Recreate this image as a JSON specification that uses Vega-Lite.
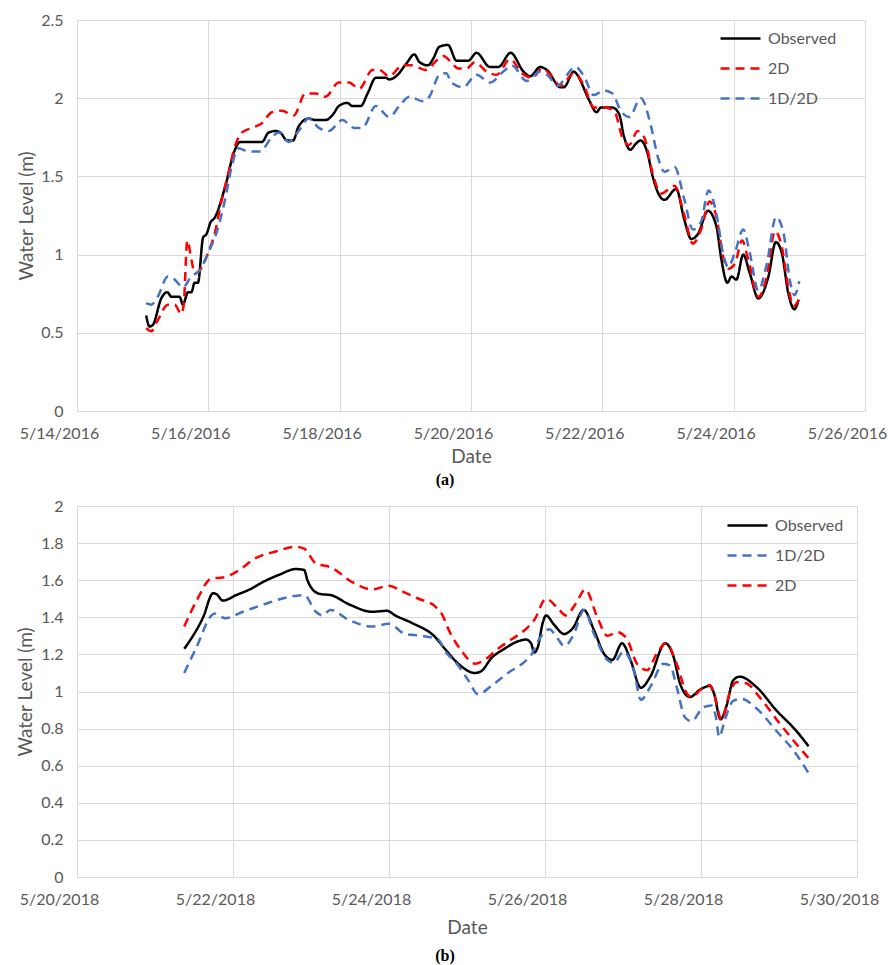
{
"$schema": "https://vega.github.io/schema/vega-lite/v6.json",
"background": "white",
"padding": {"left": 16, "top": 11, "right": 0, "bottom": 0},
"columns": 1,
"spacing": 8,
"config": {
  "font": "Lato",
  "view": {"stroke": "#D9D9D9", "strokeWidth": 1},
  "axis": {"labelFont": "Lato", "labelFontSize": 16, "labelColor": "#595959", "titleFont": "Lato", "titleFontSize": 19, "titleColor": "#595959", "titleFontWeight": "normal", "gridColor": "#D9D9D9", "gridWidth": 1, "domain": false, "ticks": false, "labelPadding": 14},
  "legend": {"orient": "none", "title": null, "symbolType": "stroke", "symbolSize": 1600, "symbolStrokeWidth": 2.5, "labelFont": "Lato", "labelFontSize": 16, "labelColor": "#595959", "labelOffset": 6, "rowPadding": 0}
},
"datasets": {
"a": [
{"date":"2016-05-15T01:18","level":0.61,"series":"Observed"},
{"date":"2016-05-15T02:30","level":0.54,"series":"Observed"},
{"date":"2016-05-15T03:42","level":0.55,"series":"Observed"},
{"date":"2016-05-15T06:48","level":0.72,"series":"Observed"},
{"date":"2016-05-15T09:00","level":0.76,"series":"Observed"},
{"date":"2016-05-15T10:30","level":0.73,"series":"Observed"},
{"date":"2016-05-15T13:30","level":0.73,"series":"Observed"},
{"date":"2016-05-15T14:42","level":0.68,"series":"Observed"},
{"date":"2016-05-15T16:36","level":0.76,"series":"Observed"},
{"date":"2016-05-15T17:48","level":0.76,"series":"Observed"},
{"date":"2016-05-15T19:00","level":0.82,"series":"Observed"},
{"date":"2016-05-15T20:12","level":0.82,"series":"Observed"},
{"date":"2016-05-15T22:06","level":1.11,"series":"Observed"},
{"date":"2016-05-15T23:18","level":1.13,"series":"Observed"},
{"date":"2016-05-16T00:54","level":1.21,"series":"Observed"},
{"date":"2016-05-16T02:06","level":1.23,"series":"Observed"},
{"date":"2016-05-16T06:06","level":1.43,"series":"Observed"},
{"date":"2016-05-16T09:30","level":1.66,"series":"Observed"},
{"date":"2016-05-16T11:36","level":1.72,"series":"Observed"},
{"date":"2016-05-16T19:36","level":1.72,"series":"Observed"},
{"date":"2016-05-16T22:00","level":1.78,"series":"Observed"},
{"date":"2016-05-17T00:30","level":1.79,"series":"Observed"},
{"date":"2016-05-17T02:18","level":1.78,"series":"Observed"},
{"date":"2016-05-17T04:48","level":1.73,"series":"Observed"},
{"date":"2016-05-17T07:00","level":1.73,"series":"Observed"},
{"date":"2016-05-17T09:00","level":1.82,"series":"Observed"},
{"date":"2016-05-17T12:42","level":1.87,"series":"Observed"},
{"date":"2016-05-17T15:12","level":1.86,"series":"Observed"},
{"date":"2016-05-17T18:48","level":1.86,"series":"Observed"},
{"date":"2016-05-17T21:18","level":1.89,"series":"Observed"},
{"date":"2016-05-17T23:42","level":1.95,"series":"Observed"},
{"date":"2016-05-18T02:48","level":1.97,"series":"Observed"},
{"date":"2016-05-18T04:42","level":1.95,"series":"Observed"},
{"date":"2016-05-18T07:42","level":1.95,"series":"Observed"},
{"date":"2016-05-18T10:12","level":2.03,"series":"Observed"},
{"date":"2016-05-18T13:12","level":2.13,"series":"Observed"},
{"date":"2016-05-18T16:54","level":2.13,"series":"Observed"},
{"date":"2016-05-18T18:06","level":2.12,"series":"Observed"},
{"date":"2016-05-18T20:36","level":2.14,"series":"Observed"},
{"date":"2016-05-19T00:18","level":2.22,"series":"Observed"},
{"date":"2016-05-19T03:18","level":2.28,"series":"Observed"},
{"date":"2016-05-19T05:12","level":2.23,"series":"Observed"},
{"date":"2016-05-19T08:18","level":2.21,"series":"Observed"},
{"date":"2016-05-19T10:06","level":2.25,"series":"Observed"},
{"date":"2016-05-19T12:30","level":2.33,"series":"Observed"},
{"date":"2016-05-19T15:36","level":2.34,"series":"Observed"},
{"date":"2016-05-19T18:42","level":2.24,"series":"Observed"},
{"date":"2016-05-19T23:00","level":2.24,"series":"Observed"},
{"date":"2016-05-20T02:00","level":2.29,"series":"Observed"},
{"date":"2016-05-20T06:54","level":2.20,"series":"Observed"},
{"date":"2016-05-20T10:00","level":2.20,"series":"Observed"},
{"date":"2016-05-20T14:30","level":2.29,"series":"Observed"},
{"date":"2016-05-20T19:12","level":2.17,"series":"Observed"},
{"date":"2016-05-20T21:36","level":2.14,"series":"Observed"},
{"date":"2016-05-21T01:18","level":2.20,"series":"Observed"},
{"date":"2016-05-21T03:48","level":2.18,"series":"Observed"},
{"date":"2016-05-21T08:42","level":2.07,"series":"Observed"},
{"date":"2016-05-21T09:54","level":2.07,"series":"Observed"},
{"date":"2016-05-21T13:36","level":2.17,"series":"Observed"},
{"date":"2016-05-21T14:48","level":2.15,"series":"Observed"},
{"date":"2016-05-21T19:06","level":1.99,"series":"Observed"},
{"date":"2016-05-21T21:54","level":1.91,"series":"Observed"},
{"date":"2016-05-21T23:24","level":1.94,"series":"Observed"},
{"date":"2016-05-22T03:42","level":1.94,"series":"Observed"},
{"date":"2016-05-22T06:06","level":1.90,"series":"Observed"},
{"date":"2016-05-22T08:00","level":1.75,"series":"Observed"},
{"date":"2016-05-22T10:12","level":1.67,"series":"Observed"},
{"date":"2016-05-22T12:18","level":1.71,"series":"Observed"},
{"date":"2016-05-22T13:54","level":1.73,"series":"Observed"},
{"date":"2016-05-22T16:30","level":1.65,"series":"Observed"},
{"date":"2016-05-22T18:24","level":1.50,"series":"Observed"},
{"date":"2016-05-22T20:48","level":1.38,"series":"Observed"},
{"date":"2016-05-22T22:42","level":1.35,"series":"Observed"},
{"date":"2016-05-23T03:00","level":1.42,"series":"Observed"},
{"date":"2016-05-23T06:00","level":1.22,"series":"Observed"},
{"date":"2016-05-23T08:30","level":1.10,"series":"Observed"},
{"date":"2016-05-23T10:54","level":1.13,"series":"Observed"},
{"date":"2016-05-23T14:36","level":1.28,"series":"Observed"},
{"date":"2016-05-23T17:42","level":1.18,"series":"Observed"},
{"date":"2016-05-23T19:30","level":0.97,"series":"Observed"},
{"date":"2016-05-23T21:42","level":0.82,"series":"Observed"},
{"date":"2016-05-23T23:12","level":0.86,"series":"Observed"},
{"date":"2016-05-24T01:00","level":0.84,"series":"Observed"},
{"date":"2016-05-24T03:30","level":1.00,"series":"Observed"},
{"date":"2016-05-24T05:54","level":0.88,"series":"Observed"},
{"date":"2016-05-24T09:00","level":0.72,"series":"Observed"},
{"date":"2016-05-24T12:42","level":0.86,"series":"Observed"},
{"date":"2016-05-24T15:24","level":1.08,"series":"Observed"},
{"date":"2016-05-24T17:36","level":1.01,"series":"Observed"},
{"date":"2016-05-24T20:00","level":0.75,"series":"Observed"},
{"date":"2016-05-24T22:12","level":0.65,"series":"Observed"},
{"date":"2016-05-24T23:42","level":0.71,"series":"Observed"},
{"date":"2016-05-15T01:18","level":0.53,"series":"2D"},
{"date":"2016-05-15T03:06","level":0.51,"series":"2D"},
{"date":"2016-05-15T05:30","level":0.58,"series":"2D"},
{"date":"2016-05-15T09:12","level":0.68,"series":"2D"},
{"date":"2016-05-15T11:42","level":0.68,"series":"2D"},
{"date":"2016-05-15T14:06","level":0.62,"series":"2D"},
{"date":"2016-05-15T15:00","level":0.68,"series":"2D"},
{"date":"2016-05-15T16:18","level":1.09,"series":"2D"},
{"date":"2016-05-15T17:48","level":0.97,"series":"2D"},
{"date":"2016-05-15T19:00","level":0.88,"series":"2D"},
{"date":"2016-05-15T20:54","level":0.90,"series":"2D"},
{"date":"2016-05-15T23:54","level":1.01,"series":"2D"},
{"date":"2016-05-16T02:24","level":1.14,"series":"2D"},
{"date":"2016-05-16T04:54","level":1.35,"series":"2D"},
{"date":"2016-05-16T07:18","level":1.52,"series":"2D"},
{"date":"2016-05-16T09:42","level":1.69,"series":"2D"},
{"date":"2016-05-16T12:12","level":1.78,"series":"2D"},
{"date":"2016-05-16T15:54","level":1.81,"series":"2D"},
{"date":"2016-05-16T19:36","level":1.84,"series":"2D"},
{"date":"2016-05-16T23:12","level":1.91,"series":"2D"},
{"date":"2016-05-17T02:54","level":1.92,"series":"2D"},
{"date":"2016-05-17T07:12","level":1.89,"series":"2D"},
{"date":"2016-05-17T11:30","level":2.03,"series":"2D"},
{"date":"2016-05-17T15:12","level":2.03,"series":"2D"},
{"date":"2016-05-17T18:48","level":2.01,"series":"2D"},
{"date":"2016-05-17T23:42","level":2.10,"series":"2D"},
{"date":"2016-05-18T03:24","level":2.10,"series":"2D"},
{"date":"2016-05-18T07:06","level":2.06,"series":"2D"},
{"date":"2016-05-18T12:00","level":2.18,"series":"2D"},
{"date":"2016-05-18T14:30","level":2.18,"series":"2D"},
{"date":"2016-05-18T18:06","level":2.14,"series":"2D"},
{"date":"2016-05-18T23:00","level":2.21,"series":"2D"},
{"date":"2016-05-19T02:06","level":2.21,"series":"2D"},
{"date":"2016-05-19T07:36","level":2.18,"series":"2D"},
{"date":"2016-05-19T11:18","level":2.24,"series":"2D"},
{"date":"2016-05-19T13:54","level":2.27,"series":"2D"},
{"date":"2016-05-19T17:12","level":2.22,"series":"2D"},
{"date":"2016-05-19T19:18","level":2.19,"series":"2D"},
{"date":"2016-05-19T22:18","level":2.19,"series":"2D"},
{"date":"2016-05-20T01:24","level":2.23,"series":"2D"},
{"date":"2016-05-20T05:42","level":2.17,"series":"2D"},
{"date":"2016-05-20T09:24","level":2.15,"series":"2D"},
{"date":"2016-05-20T14:18","level":2.25,"series":"2D"},
{"date":"2016-05-20T18:36","level":2.16,"series":"2D"},
{"date":"2016-05-20T22:18","level":2.13,"series":"2D"},
{"date":"2016-05-21T02:00","level":2.19,"series":"2D"},
{"date":"2016-05-21T05:00","level":2.15,"series":"2D"},
{"date":"2016-05-21T08:42","level":2.08,"series":"2D"},
{"date":"2016-05-21T13:36","level":2.16,"series":"2D"},
{"date":"2016-05-21T17:18","level":2.08,"series":"2D"},
{"date":"2016-05-21T20:54","level":1.94,"series":"2D"},
{"date":"2016-05-22T00:36","level":1.94,"series":"2D"},
{"date":"2016-05-22T04:18","level":1.92,"series":"2D"},
{"date":"2016-05-22T07:18","level":1.75,"series":"2D"},
{"date":"2016-05-22T09:48","level":1.70,"series":"2D"},
{"date":"2016-05-22T12:54","level":1.79,"series":"2D"},
{"date":"2016-05-22T15:18","level":1.75,"series":"2D"},
{"date":"2016-05-22T18:24","level":1.52,"series":"2D"},
{"date":"2016-05-22T21:24","level":1.39,"series":"2D"},
{"date":"2016-05-23T02:24","level":1.44,"series":"2D"},
{"date":"2016-05-23T06:00","level":1.25,"series":"2D"},
{"date":"2016-05-23T09:06","level":1.07,"series":"2D"},
{"date":"2016-05-23T12:06","level":1.16,"series":"2D"},
{"date":"2016-05-23T15:12","level":1.34,"series":"2D"},
{"date":"2016-05-23T17:42","level":1.24,"series":"2D"},
{"date":"2016-05-23T20:06","level":0.99,"series":"2D"},
{"date":"2016-05-23T22:00","level":0.91,"series":"2D"},
{"date":"2016-05-24T00:24","level":0.94,"series":"2D"},
{"date":"2016-05-24T03:06","level":1.09,"series":"2D"},
{"date":"2016-05-24T05:18","level":0.97,"series":"2D"},
{"date":"2016-05-24T09:00","level":0.73,"series":"2D"},
{"date":"2016-05-24T12:06","level":0.86,"series":"2D"},
{"date":"2016-05-24T15:06","level":1.15,"series":"2D"},
{"date":"2016-05-24T17:36","level":1.05,"series":"2D"},
{"date":"2016-05-24T20:00","level":0.79,"series":"2D"},
{"date":"2016-05-24T21:54","level":0.67,"series":"2D"},
{"date":"2016-05-25T00:00","level":0.72,"series":"2D"},
{"date":"2016-05-15T01:18","level":0.69,"series":"1D/2D"},
{"date":"2016-05-15T03:06","level":0.68,"series":"1D/2D"},
{"date":"2016-05-15T05:30","level":0.73,"series":"1D/2D"},
{"date":"2016-05-15T09:12","level":0.86,"series":"1D/2D"},
{"date":"2016-05-15T11:42","level":0.84,"series":"1D/2D"},
{"date":"2016-05-15T14:42","level":0.79,"series":"1D/2D"},
{"date":"2016-05-15T17:48","level":0.86,"series":"1D/2D"},
{"date":"2016-05-15T20:54","level":0.90,"series":"1D/2D"},
{"date":"2016-05-15T23:54","level":1.01,"series":"1D/2D"},
{"date":"2016-05-16T03:00","level":1.14,"series":"1D/2D"},
{"date":"2016-05-16T06:06","level":1.35,"series":"1D/2D"},
{"date":"2016-05-16T08:30","level":1.56,"series":"1D/2D"},
{"date":"2016-05-16T11:00","level":1.68,"series":"1D/2D"},
{"date":"2016-05-16T14:36","level":1.66,"series":"1D/2D"},
{"date":"2016-05-16T18:54","level":1.66,"series":"1D/2D"},
{"date":"2016-05-16T23:12","level":1.75,"series":"1D/2D"},
{"date":"2016-05-17T01:42","level":1.78,"series":"1D/2D"},
{"date":"2016-05-17T05:18","level":1.72,"series":"1D/2D"},
{"date":"2016-05-17T09:00","level":1.79,"series":"1D/2D"},
{"date":"2016-05-17T12:42","level":1.87,"series":"1D/2D"},
{"date":"2016-05-17T16:24","level":1.81,"series":"1D/2D"},
{"date":"2016-05-17T20:00","level":1.79,"series":"1D/2D"},
{"date":"2016-05-18T01:00","level":1.86,"series":"1D/2D"},
{"date":"2016-05-18T05:18","level":1.81,"series":"1D/2D"},
{"date":"2016-05-18T08:18","level":1.81,"series":"1D/2D"},
{"date":"2016-05-18T13:12","level":1.95,"series":"1D/2D"},
{"date":"2016-05-18T18:06","level":1.88,"series":"1D/2D"},
{"date":"2016-05-18T21:48","level":1.95,"series":"1D/2D"},
{"date":"2016-05-19T01:30","level":2.01,"series":"1D/2D"},
{"date":"2016-05-19T06:24","level":1.98,"series":"1D/2D"},
{"date":"2016-05-19T08:48","level":2.01,"series":"1D/2D"},
{"date":"2016-05-19T12:30","level":2.15,"series":"1D/2D"},
{"date":"2016-05-19T15:00","level":2.16,"series":"1D/2D"},
{"date":"2016-05-19T16:48","level":2.10,"series":"1D/2D"},
{"date":"2016-05-19T21:06","level":2.07,"series":"1D/2D"},
{"date":"2016-05-20T02:00","level":2.15,"series":"1D/2D"},
{"date":"2016-05-20T06:54","level":2.10,"series":"1D/2D"},
{"date":"2016-05-20T11:48","level":2.17,"series":"1D/2D"},
{"date":"2016-05-20T14:54","level":2.21,"series":"1D/2D"},
{"date":"2016-05-20T20:24","level":2.11,"series":"1D/2D"},
{"date":"2016-05-21T01:18","level":2.17,"series":"1D/2D"},
{"date":"2016-05-21T04:24","level":2.14,"series":"1D/2D"},
{"date":"2016-05-21T07:24","level":2.08,"series":"1D/2D"},
{"date":"2016-05-21T14:12","level":2.20,"series":"1D/2D"},
{"date":"2016-05-21T17:18","level":2.14,"series":"1D/2D"},
{"date":"2016-05-21T20:54","level":2.02,"series":"1D/2D"},
{"date":"2016-05-22T00:36","level":2.05,"series":"1D/2D"},
{"date":"2016-05-22T03:42","level":2.03,"series":"1D/2D"},
{"date":"2016-05-22T06:42","level":1.92,"series":"1D/2D"},
{"date":"2016-05-22T09:48","level":1.88,"series":"1D/2D"},
{"date":"2016-05-22T14:06","level":2.00,"series":"1D/2D"},
{"date":"2016-05-22T17:48","level":1.82,"series":"1D/2D"},
{"date":"2016-05-22T20:12","level":1.63,"series":"1D/2D"},
{"date":"2016-05-22T22:42","level":1.53,"series":"1D/2D"},
{"date":"2016-05-23T02:24","level":1.56,"series":"1D/2D"},
{"date":"2016-05-23T06:00","level":1.35,"series":"1D/2D"},
{"date":"2016-05-23T09:06","level":1.16,"series":"1D/2D"},
{"date":"2016-05-23T12:06","level":1.21,"series":"1D/2D"},
{"date":"2016-05-23T14:48","level":1.41,"series":"1D/2D"},
{"date":"2016-05-23T17:42","level":1.26,"series":"1D/2D"},
{"date":"2016-05-23T20:06","level":1.01,"series":"1D/2D"},
{"date":"2016-05-23T22:00","level":0.92,"series":"1D/2D"},
{"date":"2016-05-24T00:24","level":1.01,"series":"1D/2D"},
{"date":"2016-05-24T03:30","level":1.16,"series":"1D/2D"},
{"date":"2016-05-24T05:54","level":1.01,"series":"1D/2D"},
{"date":"2016-05-24T09:00","level":0.77,"series":"1D/2D"},
{"date":"2016-05-24T12:06","level":0.94,"series":"1D/2D"},
{"date":"2016-05-24T15:30","level":1.24,"series":"1D/2D"},
{"date":"2016-05-24T18:12","level":1.14,"series":"1D/2D"},
{"date":"2016-05-24T20:36","level":0.83,"series":"1D/2D"},
{"date":"2016-05-24T22:12","level":0.74,"series":"1D/2D"},
{"date":"2016-05-25T00:00","level":0.83,"series":"1D/2D"}
],
"b": [
{"date":"2018-05-21T09:00","level":1.23,"series":"Observed"},
{"date":"2018-05-21T14:48","level":1.40,"series":"Observed"},
{"date":"2018-05-21T17:54","level":1.53,"series":"Observed"},
{"date":"2018-05-21T18:54","level":1.525,"series":"Observed"},
{"date":"2018-05-21T20:54","level":1.49,"series":"Observed"},
{"date":"2018-05-22T01:00","level":1.52,"series":"Observed"},
{"date":"2018-05-22T05:06","level":1.55,"series":"Observed"},
{"date":"2018-05-22T09:12","level":1.59,"series":"Observed"},
{"date":"2018-05-22T14:18","level":1.63,"series":"Observed"},
{"date":"2018-05-22T19:18","level":1.66,"series":"Observed"},
{"date":"2018-05-22T21:54","level":1.655,"series":"Observed"},
{"date":"2018-05-22T22:54","level":1.60,"series":"Observed"},
{"date":"2018-05-23T00:30","level":1.55,"series":"Observed"},
{"date":"2018-05-23T03:00","level":1.525,"series":"Observed"},
{"date":"2018-05-23T06:00","level":1.52,"series":"Observed"},
{"date":"2018-05-23T11:42","level":1.47,"series":"Observed"},
{"date":"2018-05-23T18:48","level":1.43,"series":"Observed"},
{"date":"2018-05-23T23:24","level":1.435,"series":"Observed"},
{"date":"2018-05-24T01:54","level":1.41,"series":"Observed"},
{"date":"2018-05-24T07:00","level":1.37,"series":"Observed"},
{"date":"2018-05-24T14:06","level":1.295,"series":"Observed"},
{"date":"2018-05-24T17:12","level":1.23,"series":"Observed"},
{"date":"2018-05-24T21:18","level":1.15,"series":"Observed"},
{"date":"2018-05-25T02:24","level":1.10,"series":"Observed"},
{"date":"2018-05-25T04:24","level":1.11,"series":"Observed"},
{"date":"2018-05-25T07:30","level":1.18,"series":"Observed"},
{"date":"2018-05-25T11:30","level":1.23,"series":"Observed"},
{"date":"2018-05-25T15:36","level":1.27,"series":"Observed"},
{"date":"2018-05-25T18:12","level":1.28,"series":"Observed"},
{"date":"2018-05-25T19:42","level":1.26,"series":"Observed"},
{"date":"2018-05-25T20:42","level":1.21,"series":"Observed"},
{"date":"2018-05-25T21:48","level":1.24,"series":"Observed"},
{"date":"2018-05-25T23:18","level":1.37,"series":"Observed"},
{"date":"2018-05-26T00:18","level":1.41,"series":"Observed"},
{"date":"2018-05-26T02:48","level":1.36,"series":"Observed"},
{"date":"2018-05-26T05:54","level":1.31,"series":"Observed"},
{"date":"2018-05-26T08:30","level":1.34,"series":"Observed"},
{"date":"2018-05-26T11:54","level":1.44,"series":"Observed"},
{"date":"2018-05-26T15:06","level":1.33,"series":"Observed"},
{"date":"2018-05-26T18:06","level":1.205,"series":"Observed"},
{"date":"2018-05-26T20:42","level":1.17,"series":"Observed"},
{"date":"2018-05-26T23:42","level":1.26,"series":"Observed"},
{"date":"2018-05-27T02:18","level":1.17,"series":"Observed"},
{"date":"2018-05-27T05:30","level":1.02,"series":"Observed"},
{"date":"2018-05-27T08:24","level":1.08,"series":"Observed"},
{"date":"2018-05-27T13:00","level":1.26,"series":"Observed"},
{"date":"2018-05-27T15:30","level":1.19,"series":"Observed"},
{"date":"2018-05-27T17:36","level":1.04,"series":"Observed"},
{"date":"2018-05-27T20:36","level":0.97,"series":"Observed"},
{"date":"2018-05-27T23:42","level":1.01,"series":"Observed"},
{"date":"2018-05-28T02:42","level":1.03,"series":"Observed"},
{"date":"2018-05-28T04:00","level":0.99,"series":"Observed"},
{"date":"2018-05-28T06:00","level":0.85,"series":"Observed"},
{"date":"2018-05-28T07:48","level":0.92,"series":"Observed"},
{"date":"2018-05-28T09:54","level":1.06,"series":"Observed"},
{"date":"2018-05-28T11:54","level":1.08,"series":"Observed"},
{"date":"2018-05-28T17:00","level":1.025,"series":"Observed"},
{"date":"2018-05-28T23:06","level":0.90,"series":"Observed"},
{"date":"2018-05-29T05:12","level":0.79,"series":"Observed"},
{"date":"2018-05-29T09:06","level":0.705,"series":"Observed"},
{"date":"2018-05-21T09:00","level":1.10,"series":"1D/2D"},
{"date":"2018-05-21T12:48","level":1.24,"series":"1D/2D"},
{"date":"2018-05-21T17:24","level":1.41,"series":"1D/2D"},
{"date":"2018-05-21T18:24","level":1.42,"series":"1D/2D"},
{"date":"2018-05-21T21:30","level":1.395,"series":"1D/2D"},
{"date":"2018-05-22T03:06","level":1.43,"series":"1D/2D"},
{"date":"2018-05-22T11:12","level":1.48,"series":"1D/2D"},
{"date":"2018-05-22T17:18","level":1.51,"series":"1D/2D"},
{"date":"2018-05-22T21:54","level":1.52,"series":"1D/2D"},
{"date":"2018-05-23T01:30","level":1.43,"series":"1D/2D"},
{"date":"2018-05-23T03:30","level":1.41,"series":"1D/2D"},
{"date":"2018-05-23T06:00","level":1.44,"series":"1D/2D"},
{"date":"2018-05-23T11:42","level":1.385,"series":"1D/2D"},
{"date":"2018-05-23T18:48","level":1.35,"series":"1D/2D"},
{"date":"2018-05-23T23:54","level":1.365,"series":"1D/2D"},
{"date":"2018-05-24T05:00","level":1.31,"series":"1D/2D"},
{"date":"2018-05-24T10:06","level":1.30,"series":"1D/2D"},
{"date":"2018-05-24T15:12","level":1.28,"series":"1D/2D"},
{"date":"2018-05-24T17:12","level":1.22,"series":"1D/2D"},
{"date":"2018-05-24T21:18","level":1.14,"series":"1D/2D"},
{"date":"2018-05-25T00:24","level":1.06,"series":"1D/2D"},
{"date":"2018-05-25T03:24","level":0.985,"series":"1D/2D"},
{"date":"2018-05-25T07:30","level":1.03,"series":"1D/2D"},
{"date":"2018-05-25T12:36","level":1.10,"series":"1D/2D"},
{"date":"2018-05-25T17:42","level":1.16,"series":"1D/2D"},
{"date":"2018-05-25T19:42","level":1.195,"series":"1D/2D"},
{"date":"2018-05-25T21:48","level":1.27,"series":"1D/2D"},
{"date":"2018-05-26T01:18","level":1.335,"series":"1D/2D"},
{"date":"2018-05-26T03:54","level":1.285,"series":"1D/2D"},
{"date":"2018-05-26T05:54","level":1.245,"series":"1D/2D"},
{"date":"2018-05-26T08:54","level":1.31,"series":"1D/2D"},
{"date":"2018-05-26T12:00","level":1.44,"series":"1D/2D"},
{"date":"2018-05-26T15:06","level":1.31,"series":"1D/2D"},
{"date":"2018-05-26T19:12","level":1.17,"series":"1D/2D"},
{"date":"2018-05-26T21:12","level":1.155,"series":"1D/2D"},
{"date":"2018-05-27T00:12","level":1.215,"series":"1D/2D"},
{"date":"2018-05-27T03:18","level":1.115,"series":"1D/2D"},
{"date":"2018-05-27T05:30","level":0.955,"series":"1D/2D"},
{"date":"2018-05-27T08:24","level":1.025,"series":"1D/2D"},
{"date":"2018-05-27T12:30","level":1.15,"series":"1D/2D"},
{"date":"2018-05-27T14:30","level":1.14,"series":"1D/2D"},
{"date":"2018-05-27T16:30","level":1.025,"series":"1D/2D"},
{"date":"2018-05-27T19:06","level":0.86,"series":"1D/2D"},
{"date":"2018-05-27T21:06","level":0.84,"series":"1D/2D"},
{"date":"2018-05-28T00:42","level":0.915,"series":"1D/2D"},
{"date":"2018-05-28T03:12","level":0.925,"series":"1D/2D"},
{"date":"2018-05-28T04:36","level":0.86,"series":"1D/2D"},
{"date":"2018-05-28T05:36","level":0.755,"series":"1D/2D"},
{"date":"2018-05-28T07:18","level":0.845,"series":"1D/2D"},
{"date":"2018-05-28T09:54","level":0.95,"series":"1D/2D"},
{"date":"2018-05-28T12:24","level":0.96,"series":"1D/2D"},
{"date":"2018-05-28T17:00","level":0.91,"series":"1D/2D"},
{"date":"2018-05-28T23:06","level":0.79,"series":"1D/2D"},
{"date":"2018-05-29T05:12","level":0.665,"series":"1D/2D"},
{"date":"2018-05-29T09:06","level":0.56,"series":"1D/2D"},
{"date":"2018-05-21T09:00","level":1.35,"series":"2D"},
{"date":"2018-05-21T12:48","level":1.49,"series":"2D"},
{"date":"2018-05-21T17:24","level":1.61,"series":"2D"},
{"date":"2018-05-21T20:54","level":1.615,"series":"2D"},
{"date":"2018-05-22T01:00","level":1.645,"series":"2D"},
{"date":"2018-05-22T07:06","level":1.72,"series":"2D"},
{"date":"2018-05-22T13:12","level":1.755,"series":"2D"},
{"date":"2018-05-22T19:18","level":1.78,"series":"2D"},
{"date":"2018-05-22T21:54","level":1.77,"series":"2D"},
{"date":"2018-05-23T01:30","level":1.69,"series":"2D"},
{"date":"2018-05-23T06:00","level":1.67,"series":"2D"},
{"date":"2018-05-23T12:42","level":1.59,"series":"2D"},
{"date":"2018-05-23T18:48","level":1.55,"series":"2D"},
{"date":"2018-05-23T23:54","level":1.57,"series":"2D"},
{"date":"2018-05-24T04:00","level":1.54,"series":"2D"},
{"date":"2018-05-24T09:06","level":1.50,"series":"2D"},
{"date":"2018-05-24T14:06","level":1.46,"series":"2D"},
{"date":"2018-05-24T16:12","level":1.42,"series":"2D"},
{"date":"2018-05-24T18:42","level":1.32,"series":"2D"},
{"date":"2018-05-24T22:18","level":1.22,"series":"2D"},
{"date":"2018-05-25T02:24","level":1.15,"series":"2D"},
{"date":"2018-05-25T05:24","level":1.17,"series":"2D"},
{"date":"2018-05-25T09:30","level":1.23,"series":"2D"},
{"date":"2018-05-25T13:36","level":1.28,"series":"2D"},
{"date":"2018-05-25T17:42","level":1.33,"series":"2D"},
{"date":"2018-05-25T20:42","level":1.385,"series":"2D"},
{"date":"2018-05-26T00:18","level":1.50,"series":"2D"},
{"date":"2018-05-26T03:54","level":1.45,"series":"2D"},
{"date":"2018-05-26T06:24","level":1.41,"series":"2D"},
{"date":"2018-05-26T09:30","level":1.475,"series":"2D"},
{"date":"2018-05-26T12:24","level":1.55,"series":"2D"},
{"date":"2018-05-26T16:06","level":1.40,"series":"2D"},
{"date":"2018-05-26T19:12","level":1.30,"series":"2D"},
{"date":"2018-05-26T22:12","level":1.32,"series":"2D"},
{"date":"2018-05-27T01:18","level":1.28,"series":"2D"},
{"date":"2018-05-27T04:18","level":1.15,"series":"2D"},
{"date":"2018-05-27T07:24","level":1.115,"series":"2D"},
{"date":"2018-05-27T10:24","level":1.205,"series":"2D"},
{"date":"2018-05-27T13:18","level":1.26,"series":"2D"},
{"date":"2018-05-27T16:30","level":1.15,"series":"2D"},
{"date":"2018-05-27T19:36","level":0.99,"series":"2D"},
{"date":"2018-05-27T21:06","level":0.97,"series":"2D"},
{"date":"2018-05-28T00:12","level":1.015,"series":"2D"},
{"date":"2018-05-28T02:42","level":1.035,"series":"2D"},
{"date":"2018-05-28T04:18","level":0.97,"series":"2D"},
{"date":"2018-05-28T06:18","level":0.845,"series":"2D"},
{"date":"2018-05-28T08:48","level":0.99,"series":"2D"},
{"date":"2018-05-28T10:54","level":1.05,"series":"2D"},
{"date":"2018-05-28T13:54","level":1.045,"series":"2D"},
{"date":"2018-05-28T18:00","level":0.97,"series":"2D"},
{"date":"2018-05-29T00:06","level":0.83,"series":"2D"},
{"date":"2018-05-29T05:12","level":0.72,"series":"2D"},
{"date":"2018-05-29T09:06","level":0.64,"series":"2D"}
]
},
"concat": [
{
  "width": 788, "height": 391,
  "title": {"text": "(a)", "orient": "bottom", "anchor": "middle", "frame": "group", "font": "Liberation Serif", "fontSize": 16, "fontWeight": "bold", "color": "#000000", "offset": 6, "dx": -26},
  "data": {"name": "a"},
  "mark": {"type": "line", "interpolate": "monotone", "strokeWidth": 2.5},
  "encoding": {
    "x": {"field": "date", "type": "temporal",
      "scale": {"domain": [{"year": 2016, "month": 5, "date": 14}, {"year": 2016, "month": 5, "date": 26}]},
      "axis": {"title": "Date", "format": "%-m/%-d/%Y", "labelFlush": false, "labelOffset": -18, "grid": true, "titlePadding": 6,
        "values": [{"year": 2016, "month": 5, "date": 14}, {"year": 2016, "month": 5, "date": 16}, {"year": 2016, "month": 5, "date": 18}, {"year": 2016, "month": 5, "date": 20}, {"year": 2016, "month": 5, "date": 22}, {"year": 2016, "month": 5, "date": 24}, {"year": 2016, "month": 5, "date": 26}]}},
    "y": {"field": "level", "type": "quantitative", "scale": {"domain": [0, 2.5], "nice": false},
      "axis": {"title": "Water Level (m)", "values": [0, 0.5, 1, 1.5, 2, 2.5], "format": "~g", "titlePadding": 4}},
    "color": {"field": "series", "type": "nominal", "scale": {"domain": ["Observed", "2D", "1D/2D"], "range": ["#000000", "#FF0000", "#4472C4"]},
      "legend": {"orient": "none", "legendX": 642, "legendY": -3}},
    "strokeDash": {"field": "series", "type": "nominal", "scale": {"domain": ["Observed", "2D", "1D/2D"], "range": [[1, 0], [9, 6], [9, 6]]},
      "legend": {"orient": "none", "legendX": 642, "legendY": -3}}
  }
},
{
  "width": 780, "height": 371,
  "title": {"text": "(b)", "orient": "bottom", "anchor": "middle", "frame": "group", "font": "Liberation Serif", "fontSize": 16, "fontWeight": "bold", "color": "#000000", "offset": 11, "dx": -22},
  "data": {"name": "b"},
  "mark": {"type": "line", "interpolate": "monotone", "strokeWidth": 2.5},
  "encoding": {
    "x": {"field": "date", "type": "temporal",
      "scale": {"domain": [{"year": 2018, "month": 5, "date": 20}, {"year": 2018, "month": 5, "date": 30}]},
      "axis": {"title": "Date", "format": "%-m/%-d/%Y", "labelFlush": false, "labelOffset": -18, "grid": true, "titlePadding": 11,
        "values": [{"year": 2018, "month": 5, "date": 20}, {"year": 2018, "month": 5, "date": 22}, {"year": 2018, "month": 5, "date": 24}, {"year": 2018, "month": 5, "date": 26}, {"year": 2018, "month": 5, "date": 28}, {"year": 2018, "month": 5, "date": 30}]}},
    "y": {"field": "level", "type": "quantitative", "scale": {"domain": [0, 2], "nice": false},
      "axis": {"title": "Water Level (m)", "values": [0, 0.2, 0.4, 0.6, 0.8, 1, 1.2, 1.4, 1.6, 1.8, 2], "format": "~g", "titlePadding": 5}},
    "color": {"field": "series", "type": "nominal", "scale": {"domain": ["Observed", "1D/2D", "2D"], "range": ["#000000", "#4472C4", "#FF0000"]},
      "legend": {"orient": "none", "legendX": 649, "legendY": -2}},
    "strokeDash": {"field": "series", "type": "nominal", "scale": {"domain": ["Observed", "1D/2D", "2D"], "range": [[1, 0], [9, 6], [9, 6]]},
      "legend": {"orient": "none", "legendX": 649, "legendY": -2}}
  }
}
],
"resolve": {"scale": {"color": "independent", "strokeDash": "independent"}, "legend": {"color": "independent", "strokeDash": "independent"}}
}
